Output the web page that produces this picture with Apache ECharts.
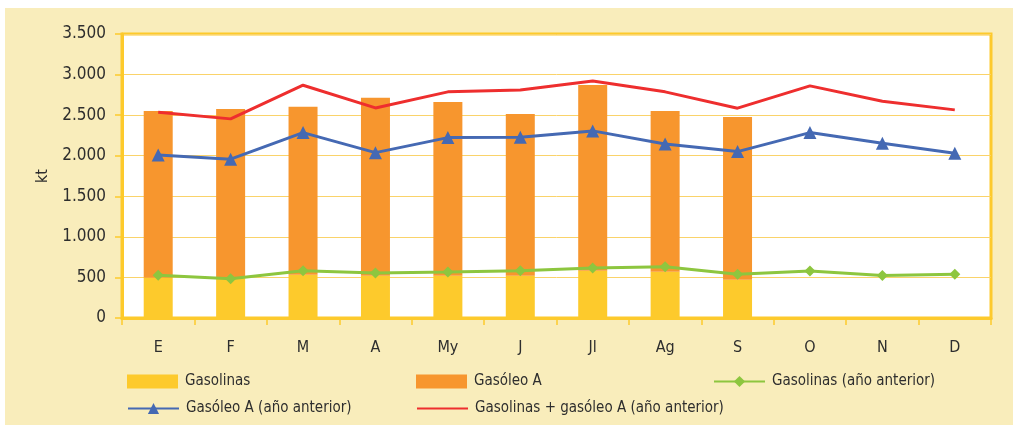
<!DOCTYPE html>
<html>
<head>
<meta charset="utf-8">
<script src="https://cdn.jsdelivr.net/npm/echarts@6/dist/echarts.min.js"></script>
<style>
  html, body { margin: 0; padding: 0; background: #fff; }
  #main { position: absolute; left: 5px; top: 8px; width: 1008px; height: 417px; background: #F9EDBB; }
</style>
</head>
<body>
<div id="main"></div>
<script>
// meses
var months = ["E", "F", "M", "A", "My", "J", "Jl", "Ag", "S", "O", "N", "D"];
// consumo del año actual (kt), solo hasta septiembre
var gasolinas = [497, 489, 534, 522, 522, 522, 583, 571, 472, null, null, null];
var gasoleoA = [2055, 2088, 2068, 2191, 2141, 1993, 2290, 1981, 2006, null, null, null];
// año anterior
var gasolinasPrev = [526, 485, 583, 555, 567, 583, 617, 633, 539, 580, 523, 539];
var gasoleoPrev = [2010, 1957, 2285, 2038, 2223, 2228, 2306, 2145, 2051, 2285, 2154, 2031];
var totalPrev = [2536, 2454, 2869, 2589, 2787, 2811, 2922, 2787, 2586, 2861, 2672, 2565];

var font = "'Liberation Sans Narrow', 'DejaVu Sans Condensed', 'Roboto', sans-serif";
var textColor = "#2e2e2e";
var yellow = "#FDCA2C";

function fmt(v) {
  return String(v).replace(/\B(?=(\d{3})+(?!\d))/g, ".");
}

function legendAt(name, left, top, extra) {
  var l = {
    data: [name],
    left: left,
    top: top,
    itemWidth: 51,
    itemHeight: 14,
    itemGap: 0,
    padding: 0,
    textStyle: { fontFamily: font, fontSize: 15, color: textColor, padding: [0, 0, 0, 2] }
  };
  for (var k in extra) l[k] = extra[k];
  return l;
}

var myChart = echarts.init(document.getElementById("main"));
myChart.setOption({
  animation: false,
  textStyle: { fontFamily: font },
  grid: {
    left: 117,
    top: 26,
    right: 22,
    bottom: 107,
    show: true,
    backgroundColor: "#fff",
    borderColor: yellow,
    borderWidth: 3
  },
  legend: [
    legendAt("Gasolinas", 122, 366, { icon: "rect" }),
    legendAt("Gasóleo A", 411, 366, { icon: "rect" }),
    legendAt("Gasolinas (año anterior)", 708, 366),
    legendAt("Gasóleo A (año anterior)", 122, 393),
    legendAt("Gasolinas + gasóleo A (año anterior)", 411, 393, { itemStyle: { opacity: 0 } })
  ],
  xAxis: {
    type: "category",
    data: months,
    axisLine: { lineStyle: { color: yellow, width: 3 } },
    axisTick: { show: true, length: 7, lineStyle: { color: yellow, width: 1.5 } },
    axisLabel: { fontFamily: font, fontSize: 16, color: textColor, margin: 22 }
  },
  yAxis: {
    type: "value",
    min: 0,
    max: 3500,
    interval: 500,
    name: "kt",
    nameLocation: "middle",
    nameGap: 62,
    nameTextStyle: { fontFamily: font, fontSize: 16, color: textColor },
    axisLine: { show: true, lineStyle: { color: yellow, width: 3 } },
    axisTick: { show: true, length: 7, lineStyle: { color: yellow, width: 1.5 } },
    axisLabel: { fontFamily: font, fontSize: 17, color: textColor, margin: 16, formatter: fmt },
    splitLine: { lineStyle: { color: "#FAD36A", width: 1 } }
  },
  series: [
    {
      name: "Gasolinas",
      type: "bar",
      stack: "total",
      data: gasolinas,
      barWidth: 29,
      itemStyle: { color: "#FDCA2C" }
    },
    {
      name: "Gasóleo A",
      type: "bar",
      stack: "total",
      data: gasoleoA,
      barWidth: 29,
      itemStyle: { color: "#F7962E" }
    },
    {
      name: "Gasolinas (año anterior)",
      type: "line",
      data: gasolinasPrev,
      symbol: "diamond",
      symbolSize: 11,
      lineStyle: { color: "#8DC63F", width: 3 },
      itemStyle: { color: "#8DC63F" }
    },
    {
      name: "Gasóleo A (año anterior)",
      type: "line",
      data: gasoleoPrev,
      symbol: "triangle",
      symbolSize: 13,
      lineStyle: { color: "#4569B3", width: 3 },
      itemStyle: { color: "#4569B3" }
    },
    {
      name: "Gasolinas + gasóleo A (año anterior)",
      type: "line",
      data: totalPrev,
      symbol: "none",
      lineStyle: { color: "#EE2E2E", width: 3 },
      itemStyle: { color: "#EE2E2E" }
    }
  ]
});
window.onresize = function () {
  myChart.resize();
};
</script>
</body>
</html>
